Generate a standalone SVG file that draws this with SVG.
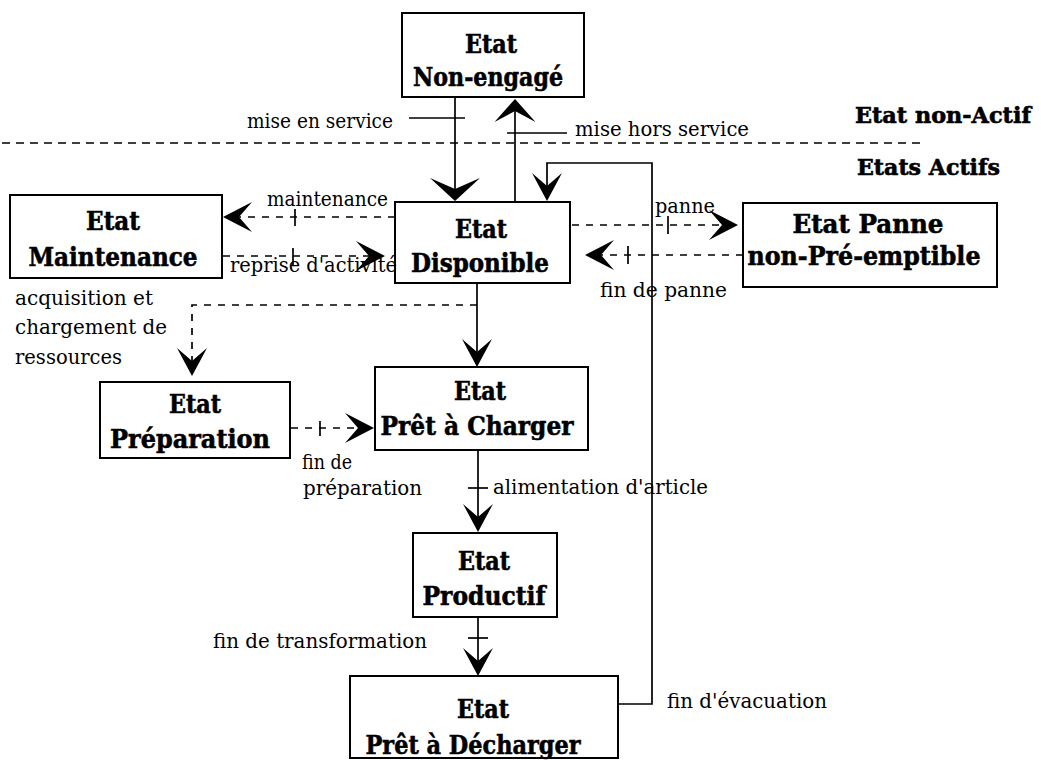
<svg xmlns="http://www.w3.org/2000/svg" width="1041" height="760" viewBox="0 0 1041 760">
<style>
.box{fill:#fff;stroke:#000;stroke-width:2}
.nt{font-family:"DejaVu Serif","Liberation Serif",serif;font-weight:bold;font-size:26px;text-anchor:middle;fill:#000;stroke:#000;stroke-width:0.6}
.side{font-family:"DejaVu Serif","Liberation Serif",serif;font-weight:bold;font-size:22px;fill:#000;stroke:#000;stroke-width:0.6}
.lb{font-family:"DejaVu Serif","Liberation Serif",serif;font-size:20px;fill:#000}
.ln{fill:none;stroke:#000;stroke-width:1.7}
.ds{fill:none;stroke:#000;stroke-width:1.7;stroke-dasharray:7 7}
.sep{fill:none;stroke:#000;stroke-width:1.6;stroke-dasharray:8 6}
.ah{fill:#000;stroke:none}
</style>
<defs>
<path id="ahBig" d="M0,0 L-25,-23 L0,-12 L25,-23 Z"/>
<path id="ahV" d="M0,0 L-15,-28 L0,-15 L15,-28 Z"/>
<path id="ahH" d="M0,0 L-29,-15 L-16,0 L-29,15 Z"/>
</defs>
<rect width="1041" height="760" fill="#fff"/>

<g id="connectors">
<line class="sep" x1="2" y1="143" x2="925" y2="143"/>
<!-- mise en service -->
<line class="ln" x1="455" y1="97" x2="455" y2="195"/>
<line class="ln" x1="409" y1="118" x2="465" y2="118"/>
<use href="#ahBig" class="ah" transform="translate(455,201)"/>
<!-- mise hors service -->
<line class="ln" x1="515" y1="202" x2="515" y2="106"/>
<line class="ln" x1="507" y1="133" x2="567" y2="133"/>
<use href="#ahBig" class="ah" transform="translate(515,99) rotate(180) scale(0.82,1)"/>
<!-- return fin d'evacuation -->
<path class="ln" d="M618,704 H652 V163 H547 V192"/>
<use href="#ahV" class="ah" transform="translate(547,201)"/>
<!-- maintenance -->
<line class="ds" x1="395" y1="217" x2="236" y2="217"/>
<line class="ln" x1="295" y1="209" x2="295" y2="226"/>
<use href="#ahH" class="ah" transform="translate(223,217) rotate(180)"/>
<!-- reprise d'activite -->
<line class="ds" x1="223" y1="256" x2="372" y2="256"/>
<line class="ln" x1="293" y1="248" x2="293" y2="265"/>
<use href="#ahH" class="ah" transform="translate(385,256)"/>
<!-- panne -->
<line class="ds" x1="572" y1="225" x2="724" y2="225"/>
<line class="ln" x1="668" y1="216" x2="668" y2="234"/>
<use href="#ahH" class="ah" transform="translate(738,225)"/>
<!-- fin de panne -->
<line class="ds" x1="743" y1="255" x2="598" y2="255"/>
<line class="ln" x1="628" y1="246" x2="628" y2="264"/>
<use href="#ahH" class="ah" transform="translate(585,255) rotate(180)"/>
<!-- Disponible -> Pret a charger -->
<line class="ln" x1="477" y1="283" x2="477" y2="360"/>
<use href="#ahV" class="ah" transform="translate(477,367)"/>
<!-- acquisition -->
<path class="ds" d="M477,305 H192 V364"/>
<use href="#ahV" class="ah" transform="translate(192,376)"/>
<!-- fin de preparation -->
<line class="ds" x1="291" y1="428" x2="360" y2="428"/>
<line class="ln" x1="320" y1="421" x2="320" y2="436"/>
<use href="#ahH" class="ah" transform="translate(374,428)"/>
<!-- alimentation -->
<line class="ln" x1="478" y1="450" x2="478" y2="525"/>
<line class="ln" x1="468" y1="488" x2="488" y2="488"/>
<use href="#ahV" class="ah" transform="translate(478,532)"/>
<!-- fin de transformation -->
<line class="ln" x1="478" y1="617" x2="478" y2="668"/>
<line class="ln" x1="468" y1="638" x2="488" y2="638"/>
<use href="#ahV" class="ah" transform="translate(478,676)"/>
</g>

<g id="n_nonengage">
<rect class="box" x="402" y="13" width="182" height="84"/>
<text class="nt" x="491" y="53" textLength="52" lengthAdjust="spacingAndGlyphs">Etat</text>
<text class="nt" x="488" y="86" textLength="150" lengthAdjust="spacingAndGlyphs">Non-engagé</text>
</g>
<g id="n_maintenance">
<rect class="box" x="10" y="195" width="212" height="83"/>
<text class="nt" x="113" y="230" textLength="54" lengthAdjust="spacingAndGlyphs">Etat</text>
<text class="nt" x="113" y="266" textLength="169" lengthAdjust="spacingAndGlyphs">Maintenance</text>
</g>
<g id="n_disponible">
<rect class="box" x="395" y="202" width="175" height="81"/>
<text class="nt" x="481" y="238" textLength="52" lengthAdjust="spacingAndGlyphs">Etat</text>
<text class="nt" x="480" y="272" textLength="138" lengthAdjust="spacingAndGlyphs">Disponible</text>
</g>
<g id="n_panne">
<rect class="box" x="743" y="203" width="254" height="84"/>
<text class="nt" x="868" y="233" textLength="151" lengthAdjust="spacingAndGlyphs">Etat Panne</text>
<text class="nt" x="864" y="265" textLength="233" lengthAdjust="spacingAndGlyphs">non-Pré-emptible</text>
</g>
<g id="n_preparation">
<rect class="box" x="100" y="382" width="190" height="76"/>
<text class="nt" x="195" y="413" textLength="52" lengthAdjust="spacingAndGlyphs">Etat</text>
<text class="nt" x="190" y="448" textLength="160" lengthAdjust="spacingAndGlyphs">Préparation</text>
</g>
<g id="n_pretcharger">
<rect class="box" x="375" y="367" width="213" height="83"/>
<text class="nt" x="480" y="400" textLength="52" lengthAdjust="spacingAndGlyphs">Etat</text>
<text class="nt" x="477" y="435" textLength="193" lengthAdjust="spacingAndGlyphs">Prêt à Charger</text>
</g>
<g id="n_productif">
<rect class="box" x="413" y="533" width="144" height="84"/>
<text class="nt" x="484" y="570" textLength="52" lengthAdjust="spacingAndGlyphs">Etat</text>
<text class="nt" x="484" y="605" textLength="123" lengthAdjust="spacingAndGlyphs">Productif</text>
</g>
<g id="n_pretdecharger">
<rect class="box" x="350" y="676" width="268" height="82"/>
<text class="nt" x="483" y="718" textLength="52" lengthAdjust="spacingAndGlyphs">Etat</text>
<text class="nt" x="473" y="754" textLength="215" lengthAdjust="spacingAndGlyphs">Prêt à Décharger</text>
</g>

<g id="labels">
<text class="side" x="855" y="123" textLength="176" lengthAdjust="spacingAndGlyphs">Etat non-Actif</text>
<text class="side" x="857" y="175" textLength="143" lengthAdjust="spacingAndGlyphs">Etats Actifs</text>
<text class="lb" x="247" y="128" textLength="146" lengthAdjust="spacingAndGlyphs">mise en service</text>
<text class="lb" x="575" y="136" textLength="174" lengthAdjust="spacingAndGlyphs">mise hors service</text>
<text class="lb" x="267" y="206" textLength="121" lengthAdjust="spacingAndGlyphs">maintenance</text>
<text class="lb" x="230" y="272" textLength="167" lengthAdjust="spacingAndGlyphs">reprise d'activité</text>
<text class="lb" x="15" y="305" textLength="138" lengthAdjust="spacingAndGlyphs">acquisition et</text>
<text class="lb" x="15" y="334" textLength="152" lengthAdjust="spacingAndGlyphs">chargement de</text>
<text class="lb" x="15" y="364" textLength="107" lengthAdjust="spacingAndGlyphs">ressources</text>
<text class="lb" x="655" y="213" textLength="60" lengthAdjust="spacingAndGlyphs">panne</text>
<text class="lb" x="600" y="297" textLength="127" lengthAdjust="spacingAndGlyphs">fin de panne</text>
<text class="lb" x="302" y="469" textLength="50" lengthAdjust="spacingAndGlyphs">fin de</text>
<text class="lb" x="303" y="495" textLength="119" lengthAdjust="spacingAndGlyphs">préparation</text>
<text class="lb" x="493" y="494" textLength="215" lengthAdjust="spacingAndGlyphs">alimentation d'article</text>
<text class="lb" x="213" y="648" textLength="214" lengthAdjust="spacingAndGlyphs">fin de transformation</text>
<text class="lb" x="667" y="708" textLength="160" lengthAdjust="spacingAndGlyphs">fin d'évacuation</text>
</g>
</svg>
